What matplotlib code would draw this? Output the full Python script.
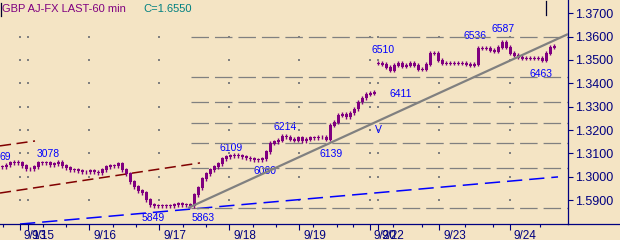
import matplotlib
matplotlib.use('Agg')
import matplotlib.pyplot as plt
from matplotlib.lines import Line2D
from matplotlib import transforms

plt.rcParams['font.family'] = ['Liberation Sans', 'DejaVu Sans']
plt.rcParams['lines.scale_dashes'] = False

# ---------------- data ----------------
# hourly closes (one value per bar slot)
closes = [
    1.3042, 1.3050, 1.3059, 1.3063, 1.3059, 1.3046, 1.3033, 1.3033, 1.3042, 1.3059,
    1.3059, 1.3059, 1.3050, 1.3055, 1.3063, 1.3046, 1.3038, 1.3029, 1.3029, 1.3025,
    1.3020, 1.3020, 1.3025, 1.3020, 1.3016, 1.3029, 1.3042, 1.3046, 1.3046, 1.3055,
    1.3029, 1.3012, 1.2978, 1.2956, 1.2939, 1.2931, 1.2901, 1.2879, 1.2875, 1.2875,
    1.2875, 1.2875, 1.2875, 1.2879, 1.2884, 1.2879, 1.2879, 1.2875, 1.2922, 1.2952,
    1.2991, 1.3012, 1.3029, 1.3042, 1.3055, 1.3076, 1.3085, 1.3089, 1.3093, 1.3089,
    1.3085, 1.3080, 1.3076, 1.3072, 1.3072, 1.3076, 1.3106, 1.3144, 1.3149, 1.3157,
    1.3174, 1.3170, 1.3161, 1.3157, 1.3166, 1.3153, 1.3161, 1.3166, 1.3166, 1.3170,
    1.3170, 1.3161, 1.3221, 1.3234, 1.3264, 1.3268, 1.3256, 1.3273, 1.3290, 1.3320,
    1.3337, 1.3354, 1.3358, 1.3362, 1.3486, 1.3482, 1.3469, 1.3456, 1.3478, 1.3486,
    1.3473, 1.3478, 1.3486, 1.3478, 1.3461, 1.3461, 1.3482, 1.3529, 1.3529, 1.3499,
    1.3486, 1.3486, 1.3486, 1.3486, 1.3486, 1.3486, 1.3482, 1.3478, 1.3482, 1.3550,
    1.3550, 1.3550, 1.3542, 1.3538, 1.3555, 1.3576, 1.3555, 1.3529, 1.3520, 1.3512,
    1.3508, 1.3508, 1.3508, 1.3508, 1.3508, 1.3499, 1.3529, 1.3555, 1.3559,
]
session_starts = [0, 94]   # bars that open on a gap (after the weekend)

day_labels = ['9/13', '9/15', '9/16', '9/17', '9/18', '9/19', '9/20', '9/22', '9/23', '9/24']
day_ticks = [4.5, 6.5, 21.75, 39.25, 56.75, 74.25, 92, 94, 109.25, 127]
minor_ticks = [0.25, 10.25, 16, 27.75, 33.5, 45.25, 51, 62.75, 68.5, 77.75, 83.75,
               87.75, 97.75, 105, 115.75, 122.75, 134.5]

price_ticks = [1.29, 1.30, 1.31, 1.32, 1.33, 1.34, 1.35, 1.36, 1.37]
price_tick_labels = ['1.5900', '1.3000', '1.3100', '1.3200', '1.3300', '1.3400',
                     '1.3500', '1.3600', '1.3700']

fib_levels = [1.3598, 1.3425, 1.3318, 1.3230, 1.3146, 1.3038, 1.2865]
fib_start = 47.25

trend_x, trend_y = [46.5, 141.5], [1.2866, 1.3611]
blue_x, blue_y = [4.5, 139.0], [1.2797, 1.2999]
red_low_x, red_low_y = [-0.5, 49.5], [1.2930, 1.3059]
red_up_x, red_up_y = [-0.5, 8.25], [1.3132, 1.3153]

labels_txt = ['69', '3078', '6109', '6214', '6060', '5849', '5863', '6139', 'V',
              '6411', '6510', '6536', '6587', '6463']
labels_x = [-0.5, 8.75, 54.25, 67.75, 62.75, 35, 47.5, 79.5, 93.25, 97, 92.5, 115.25,
            122.5, 132]
labels_y = [1.3084, 1.3097, 1.3125, 1.3213, 1.3024, 1.2821, 1.2823, 1.3097, 1.3202,
            1.3354, 1.3543, 1.3603, 1.3631, 1.3440]

# ---------------- styling ----------------
BG = '#F4E4C4'
PURPLE = '#800080'
NAVY = '#000080'
GRAY = '#808080'

W, H = 620, 240
fig = plt.figure(figsize=(W / 100, H / 100), dpi=100, facecolor=BG)
ax_bottom_px = 224.3
ax = fig.add_axes([0, (H - ax_bottom_px) / H, 568 / W, ax_bottom_px / H])
ax.set_facecolor(BG)
ax.set_xlim(-0.5, 141.5)
ax.set_ylim(1.2796, 1.3757)

for s in ['top', 'left']:
    ax.spines[s].set_visible(False)
ax.spines['right'].set_color(NAVY)
ax.spines['right'].set_linewidth(0.9)
ax.spines['bottom'].set_color(NAVY)
ax.spines['bottom'].set_linewidth(0.9)
fig.add_artist(Line2D([568 / W, 1], [(H - ax_bottom_px) / H] * 2, color=NAVY, lw=0.9,
                      transform=fig.transFigure))

# right y axis
ax.yaxis.tick_right()
ax.set_yticks(price_ticks)
ax.set_yticklabels(price_tick_labels)
ax.tick_params(axis='y', direction='out', length=3.8, width=0.8, color=NAVY,
               labelcolor=NAVY, labelsize=9, pad=1.5)

# x axis ticks
ax.set_xticks(day_ticks)
ax.set_xticklabels([])
ax.set_xticks(minor_ticks, minor=True)
ax.tick_params(axis='x', which='major', direction='out', length=4.3, width=0.8, color=NAVY)
ax.tick_params(axis='x', which='minor', direction='out', length=2.2, width=0.8, color=NAVY)
lbl_tr = transforms.offset_copy(transforms.blended_transform_factory(ax.transData, ax.transAxes),
                                fig=fig, x=4, y=-5.5, units='dots')
for xt, lab in zip(day_ticks, day_labels):
    ax.text(xt, 0, lab, transform=lbl_tr, ha='left', va='top', color=NAVY, fontsize=8.5,
            clip_on=False)

# dotted grid at intersections
gx = [x for x in day_ticks for _ in price_ticks[:-1]]
gy = [y for _ in day_ticks for y in price_ticks[:-1]]
ax.scatter(gx, gy, s=1.0, marker='s', color=GRAY, linewidths=0, zorder=1)

# channel lines
ax.plot(red_low_x, red_low_y, color='#800000', lw=1.1, dashes=(8, 4), zorder=2)
ax.plot(red_up_x, red_up_y, color='#800000', lw=1.1, dashes=(8, 4), zorder=2)
ax.plot(blue_x, blue_y, color='#0000FF', lw=1.1, dashes=(11, 5), zorder=2, clip_on=False)

# labels
for t, x, y in zip(labels_txt, labels_x, labels_y):
    ax.text(x, y, t, color='#0000FF', fontsize=7.5, ha='left', va='center', zorder=3)

# fib dashed levels
for lv in fib_levels:
    ax.plot([fib_start, 141.5], [lv, lv], color=GRAY, lw=0.9, dashes=(12.6, 4.3), zorder=4)

# candles
opens = [c if i in session_starts else closes[i - 1] for i, c in enumerate(closes)]
xs = list(range(len(closes)))
wick = 0.0009
lows = [min(o, c) - wick for o, c in zip(opens, closes)]
highs = [max(o, c) + wick for o, c in zip(opens, closes)]
ax.vlines(xs, lows, highs, color=PURPLE, lw=1.0, zorder=5)
bottoms = [min(o, c) - 0.0002 for o, c in zip(opens, closes)]
heights = [abs(c - o) + 0.0004 for o, c in zip(opens, closes)]
ax.bar(xs, heights, bottom=bottoms, width=0.75, color=PURPLE, linewidth=0, zorder=5)

# trend line
ax.plot(trend_x, trend_y, color=GRAY, lw=1.6, zorder=6, solid_capstyle='butt')

# header
fig.text(2 / W, 1 - 9 / H, 'GBP AJ-FX LAST-60 min', color=PURPLE, fontsize=8,
         ha='left', va='center')
fig.text(143 / W, 1 - 9 / H, 'C=1.6550', color='#008080', fontsize=8,
         ha='left', va='center')
fig.add_artist(Line2D([0.5 / W] * 2, [1 - 3 / H, 1 - 16 / H], color='#000030', lw=0.9,
                      transform=fig.transFigure))
fig.add_artist(Line2D([545.5 / W] * 2, [1 - 1 / H, 1 - 15 / H], color='#000030', lw=0.9,
                      transform=fig.transFigure))

fig.savefig('out.png', dpi=100, facecolor=BG)
